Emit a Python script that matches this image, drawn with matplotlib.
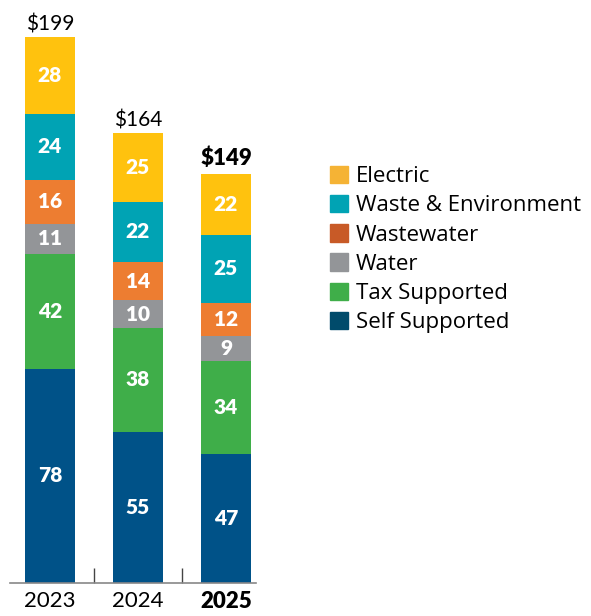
import matplotlib
matplotlib.use("Agg")
import matplotlib.pyplot as plt
from matplotlib.patches import Patch

plt.rcParams['font.family'] = ['Lato', 'DejaVu Sans']

# dados (de baixo para cima)
anos = ["2023", "2024", "2025"]
categorias = ["Self Supported", "Tax Supported", "Water", "Wastewater",
              "Waste & Environment", "Electric"]
self_supported = [78, 55, 47]
tax_supported = [42, 38, 34]
water = [11, 10, 9]
wastewater = [16, 14, 12]
waste_env = [24, 22, 25]
electric = [28, 25, 22]
totais = ["$199", "$164", "$149"]

series = [self_supported, tax_supported, water, wastewater, waste_env, electric]
cores_barra = ["#005288", "#3FAE49", "#939598", "#ED7D31", "#00A3B4", "#FFC20E"]
cores_legenda = ["#004B6B", "#3FAE49", "#939598", "#C85A27", "#00A3B4", "#F5B335"]

fig = plt.figure(figsize=(5.91, 6.16), dpi=100)
ax = fig.add_axes([10/591, 33/616, 246/591, 583/616])

x = range(len(anos))
base = [0, 0, 0]
for vals, cor in zip(series, cores_barra):
    ax.bar(x, vals, bottom=base, width=0.568, color=cor, linewidth=0)
    for i, v in enumerate(vals):
        ax.text(i, base[i] + v / 2, str(v), ha="center", va="center",
                color="white", fontsize=15, fontweight="heavy")
    base = [b + v for b, v in zip(base, vals)]

for i, t in enumerate(totais):
    if i == 2:
        ax.text(i, base[i] + 2, t, ha="center", va="bottom", fontsize=16,
                fontweight="heavy", color="black")
    else:
        ax.text(i, base[i] + 1, t, ha="center", va="bottom", fontsize=15,
                color="black")

ax.set_xlim(-0.4545, 2.341)
ax.set_ylim(0, 583 / 2.744)
for s in ["top", "right", "left"]:
    ax.spines[s].set_visible(False)
ax.spines["bottom"].set_color("#888888")
ax.spines["bottom"].set_linewidth(1.2)
ax.set_yticks([])

# separadores entre as barras
ax.set_xticks([0.5, 1.5], minor=True)
ax.tick_params(axis="x", which="minor", direction="in", length=11, color="#444444", width=1)
ax.set_xticks(list(x))
ax.set_xticklabels(anos, fontsize=16)
ax.tick_params(axis="x", which="major", length=0, pad=6)
ax.get_xticklabels()[2].set_fontweight("heavy")

handles = [Patch(color=c, label=l) for c, l in zip(cores_legenda, categorias)]
fig.legend(handles=handles[::-1], loc="upper left", bbox_to_anchor=(330/591, 1 - 166/616),
           frameon=False, prop={"family": "Open Sans", "size": 16},
           handlelength=0.82, handleheight=0.82,
           handletextpad=0.35, labelspacing=0.35, borderpad=0, borderaxespad=0)

fig.savefig("out.png", dpi=100)
